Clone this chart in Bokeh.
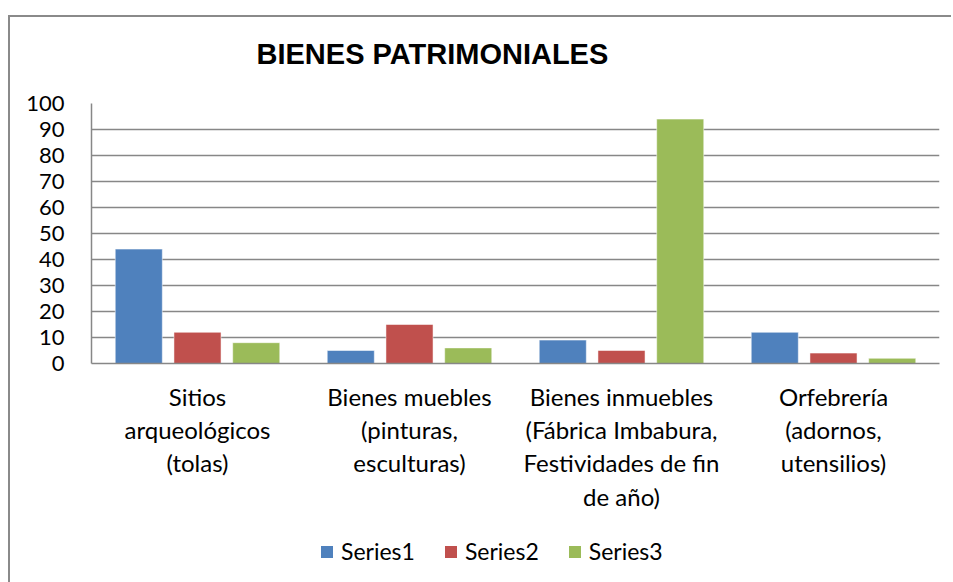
from bokeh.plotting import figure
from bokeh.layouts import column
from bokeh.models import ColumnDataSource, FactorRange, Range1d, Legend, LegendItem, FixedTicker, Title
from bokeh.transform import dodge
from bokeh.embed import file_html
from bokeh.resources import INLINE

title_text = "BIENES PATRIMONIALES"
categories = [
    "Sitios\narqueológicos\n(tolas)",
    "Bienes muebles\n(pinturas,\nesculturas)",
    "Bienes inmuebles\n(Fábrica Imbabura,\nFestividades de fin\nde año)",
    "Orfebrería\n(adornos,\nutensilios)",
]
series_names = ["Series1", "Series2", "Series3"]
series1 = [44, 5, 9, 12]
series2 = [12, 15, 5, 4]
series3 = [8, 6, 94, 2]
colors = ["#4F81BD", "#C0504D", "#9BBB59"]
y_ticks = list(range(0, 101, 10))

source = ColumnDataSource(dict(cat=categories, s1=series1, s2=series2, s3=series3))
keys = ["s1", "s2", "s3"]
offsets = [-0.277, 0.0, 0.277]
border_css = "2px solid #8a8a8a"

# ---------------- main chart ----------------
fig = figure(
    x_range=FactorRange(*categories),
    y_range=Range1d(0, 100),
    width=943, height=508,
    output_backend="svg", toolbar_location=None,
    title=None,
    min_border_left=81, min_border_right=14, min_border_top=86, min_border_bottom=162,
)
fig.margin = (15, 0, 0, 8)
fig.styles = {"border-top": border_css, "border-left": border_css, "box-sizing": "border-box"}
fig.outline_line_color = None
fig.background_fill_color = "white"
fig.border_fill_color = "white"

# spacer (blank) then the heading further out
fig.add_layout(Title(text=" ", text_font_size="8px", standoff=23), "above")
fig.add_layout(Title(text=title_text, align="left", offset=165, standoff=0,
                     text_font="Liberation Sans", text_font_style="bold",
                     text_font_size="29px", text_color="black"), "above")

for key, off, col in zip(keys, offsets, colors):
    fig.vbar(x=dodge("cat", off, range=fig.x_range), top=key, width=0.222, bottom=0,
             source=source, fill_color=col, line_color="white", line_alpha=0.5, line_width=1)

fig.xgrid.grid_line_color = None
fig.ygrid.grid_line_color = "#878787"
fig.ygrid.grid_line_width = 1.5
fig.ygrid.ticker = FixedTicker(ticks=y_ticks)

fig.yaxis.ticker = FixedTicker(ticks=y_ticks)
fig.yaxis.axis_line_color = "#878787"
fig.yaxis.axis_line_width = 1.5
fig.yaxis.major_tick_line_color = None
fig.yaxis.minor_tick_line_color = None
fig.yaxis.major_tick_out = 0
fig.yaxis.major_tick_in = 0
fig.yaxis.major_label_standoff = 27
fig.yaxis.major_label_text_font = "Lato"
fig.yaxis.major_label_text_font_size = "22px"
fig.yaxis.major_label_text_color = "black"

fig.xaxis.axis_line_color = "#878787"
fig.xaxis.axis_line_width = 1.5
fig.xaxis.major_tick_line_color = None
fig.xaxis.minor_tick_line_color = None
fig.xaxis.major_tick_out = 0
fig.xaxis.major_tick_in = 0
fig.xaxis.major_label_standoff = 18
fig.xaxis.major_label_text_font = "Lato"
fig.xaxis.major_label_text_font_size = "24px"
fig.xaxis.major_label_text_color = "black"
fig.xaxis.major_label_text_line_height = 1.15
fig.xaxis.major_label_orientation = "horizontal"

# ---------------- legend strip ----------------
leg = figure(
    x_range=FactorRange(*categories), y_range=Range1d(1000, 1001),
    width=943, height=59,
    output_backend="svg", toolbar_location=None, title=None,
    x_axis_type=None, y_axis_type=None, min_border=0,
)
leg.margin = (0, 0, 0, 8)
leg.styles = {"border-left": border_css, "box-sizing": "border-box"}
leg.outline_line_color = None
leg.background_fill_color = "white"
leg.border_fill_color = "white"
leg_renderers = []
for key, off, col in zip(keys, offsets, colors):
    r = leg.vbar(x=dodge("cat", off, range=leg.x_range), top=key, width=0.222, bottom=0,
                 source=source, fill_color=col, line_color=None)
    leg_renderers.append(r)

legend = Legend(
    items=[LegendItem(label=n, renderers=[r]) for n, r in zip(series_names, leg_renderers)],
    location=(228, 17), orientation="horizontal",
    padding=0, margin=0, spacing=28, glyph_width=15, glyph_height=15, label_standoff=7,
    label_text_font="Lato", label_text_font_size="23px", label_text_color="black",
    border_line_color=None, background_fill_alpha=0,
)
leg.add_layout(legend, "center")

p = column(fig, leg, spacing=0)
open("out.html", "w").write(file_html(p, INLINE))
